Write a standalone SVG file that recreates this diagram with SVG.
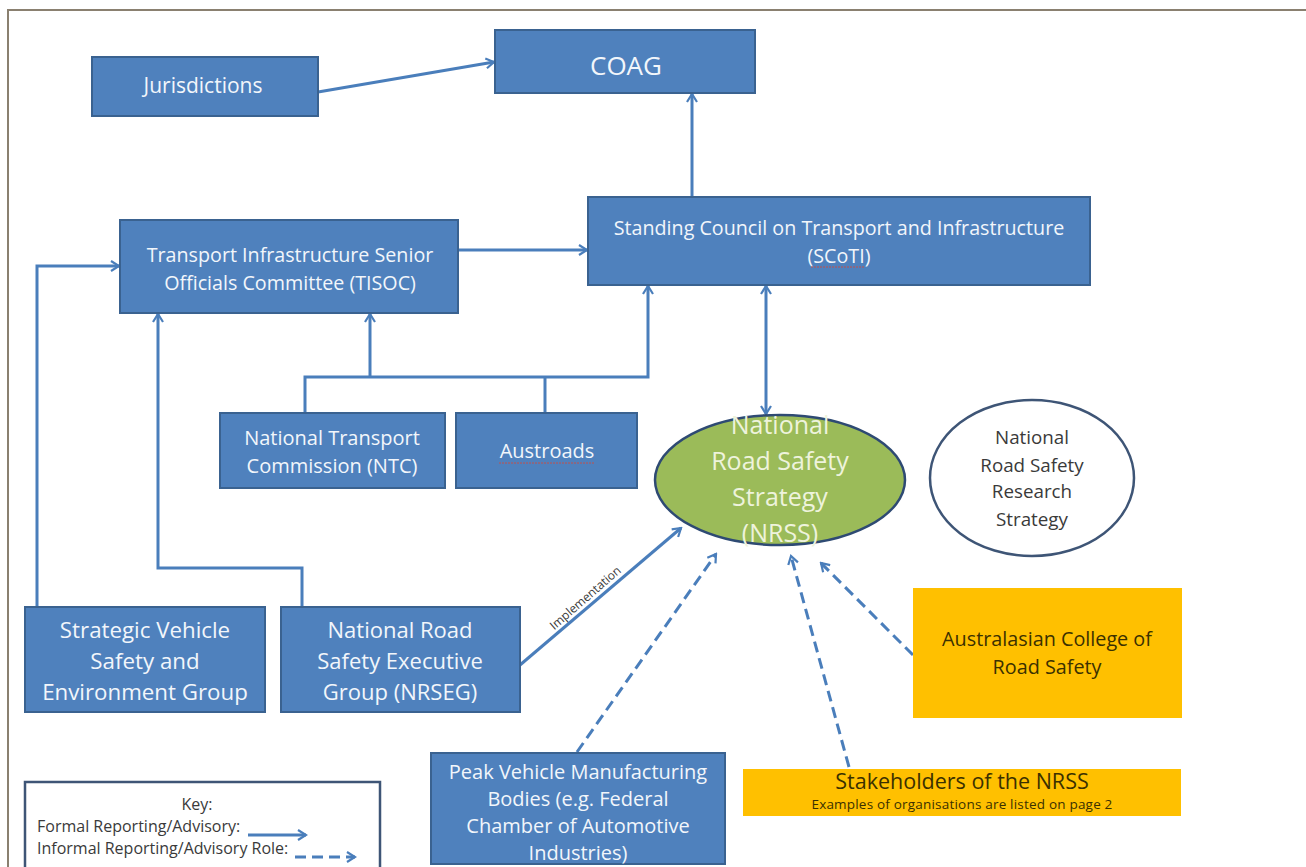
<svg xmlns="http://www.w3.org/2000/svg" width="1306" height="867" viewBox="0 0 1306 867">
<defs>
<style>
.box{fill:#4F81BD;stroke:#3A6290;stroke-width:2}
.org{fill:#FFC000;stroke:none}
.wt{fill:#F2F6FB;font-family:"Open Sans","Noto Sans","Liberation Sans",sans-serif;text-anchor:middle}
.dk{fill:#3B3000;font-family:"Open Sans","Noto Sans","Liberation Sans",sans-serif;text-anchor:middle}
.gt{fill:#3a3a3a;font-family:"Open Sans","Noto Sans","Liberation Sans",sans-serif;text-anchor:middle}
.st{text-anchor:start}
.ln{fill:none;stroke:#4A7EBB;stroke-width:3}
.dash{fill:none;stroke:#4A7EBB;stroke-width:3;stroke-dasharray:11 6}
</style>
<marker id="ah" viewBox="0 0 12 12" refX="10" refY="6" markerWidth="12" markerHeight="12" markerUnits="userSpaceOnUse" orient="auto-start-reverse">
<polyline points="2,1 10,6 2,11" fill="none" stroke="#4A7EBB" stroke-width="2.2"/>
</marker>
</defs>
<rect x="0" y="0" width="1306" height="867" fill="#ffffff"/>
<path d="M8,867 V10 H1306" fill="none" stroke="#8A8070" stroke-width="2"/>

<g id="connectors">
<path class="ln" d="M318,92 L494,62" marker-end="url(#ah)"/>
<path class="ln" d="M692,197 V94" marker-end="url(#ah)"/>
<path class="ln" d="M458,250 H587" marker-end="url(#ah)"/>
<path class="ln" d="M37,607 V266 H119" marker-end="url(#ah)"/>
<path class="ln" d="M302,607 V568 H158 V314" marker-end="url(#ah)"/>
<path class="ln" d="M305,413 V377 H648 V286" marker-end="url(#ah)"/>
<path class="ln" d="M370,377 V314" marker-end="url(#ah)"/>
<path class="ln" d="M545,413 V377"/>
<path class="ln" d="M766,286 V414" marker-start="url(#ah)" marker-end="url(#ah)"/>
<path class="ln" d="M520,665 L681,528" marker-end="url(#ah)"/>
<text class="gt" font-size="12" transform="translate(588,601) rotate(-41)">Implementation</text>
<path class="dash" d="M577,752 L716,554" marker-end="url(#ah)"/>
<path class="dash" d="M849,767 L791,556" marker-end="url(#ah)"/>
<path class="dash" d="M913,655 L821,563" marker-end="url(#ah)"/>
</g>

<g id="jurisdictions">
<rect class="box" x="92" y="57" width="226" height="59"/>
<text class="wt" x="203" y="93" font-size="21">Jurisdictions</text>
</g>
<g id="coag">
<rect class="box" x="495" y="30" width="260" height="63"/>
<text class="wt" x="626" y="75" font-size="26">COAG</text>
</g>
<g id="tisoc">
<rect class="box" x="120" y="220" width="338" height="93"/>
<text class="wt" x="290" y="262" font-size="19.7">Transport Infrastructure Senior</text>
<text class="wt" x="290" y="290" font-size="19.7">Officials Committee (TISOC)</text>
</g>
<g id="scoti">
<rect class="box" x="588" y="197" width="502" height="88"/>
<text class="wt" x="839" y="235" font-size="19.7">Standing Council on Transport and Infrastructure</text>
<text class="wt" x="839" y="263" font-size="19.7">(SCoTI)</text>
<path d="M811,267 h54" stroke="#C0504D" stroke-width="1" stroke-dasharray="2 1"/>
</g>
<g id="ntc">
<rect class="box" x="220" y="413" width="225" height="75"/>
<text class="wt" x="332" y="445" font-size="20">National Transport</text>
<text class="wt" x="332" y="473" font-size="20">Commission (NTC)</text>
</g>
<g id="austroads">
<rect class="box" x="456" y="413" width="181" height="75"/>
<text class="wt" x="547" y="458" font-size="20">Austroads</text>
<path d="M499,463 h96" stroke="#C0504D" stroke-width="1" stroke-dasharray="2 1"/>
</g>
<g id="nrss">
<ellipse cx="780" cy="480" rx="125" ry="65" fill="#9BBB59" stroke="#2E4A73" stroke-width="2.5"/>
<text class="wt" x="780" y="434" font-size="25" style="fill:#EEF3DC">National</text>
<text class="wt" x="780" y="470" font-size="25" style="fill:#EEF3DC">Road Safety</text>
<text class="wt" x="780" y="506" font-size="25" style="fill:#EEF3DC">Strategy</text>
<text class="wt" x="780" y="542" font-size="25" style="fill:#EEF3DC">(NRSS)</text>
</g>
<g id="research">
<ellipse cx="1032" cy="478" rx="102" ry="78" fill="#ffffff" stroke="#3E5576" stroke-width="2.5"/>
<text class="gt" x="1032" y="444" font-size="18.8">National</text>
<text class="gt" x="1032" y="472" font-size="18.8">Road Safety</text>
<text class="gt" x="1032" y="498" font-size="18.8">Research</text>
<text class="gt" x="1032" y="526" font-size="18.8">Strategy</text>
</g>
<g id="svseg">
<rect class="box" x="25" y="607" width="240" height="105"/>
<text class="wt" x="145" y="638" font-size="22.3">Strategic Vehicle</text>
<text class="wt" x="145" y="669" font-size="22.3">Safety and</text>
<text class="wt" x="145" y="700" font-size="22.3">Environment Group</text>
</g>
<g id="nrseg">
<rect class="box" x="281" y="607" width="239" height="105"/>
<text class="wt" x="400" y="638" font-size="22">National Road</text>
<text class="wt" x="400" y="669" font-size="22">Safety Executive</text>
<text class="wt" x="400" y="700" font-size="22">Group (NRSEG)</text>
</g>
<g id="acrs">
<rect class="org" x="913" y="588" width="269" height="130"/>
<text class="dk" x="1047" y="646" font-size="19.8">Australasian College of</text>
<text class="dk" x="1047" y="674" font-size="19.8">Road Safety</text>
</g>
<g id="stakeholders">
<rect class="org" x="743" y="769" width="438" height="47"/>
<text class="dk" x="962" y="789" font-size="21.5">Stakeholders of the NRSS</text>
<text class="dk" x="962" y="809" font-size="13.5" letter-spacing="0.2">Examples of organisations  are listed on page 2</text>
</g>
<g id="peak">
<rect class="box" x="431" y="753" width="294" height="111"/>
<text class="wt" x="578" y="779" font-size="20">Peak Vehicle Manufacturing</text>
<text class="wt" x="578" y="806" font-size="20">Bodies (e.g. Federal</text>
<text class="wt" x="578" y="833" font-size="20">Chamber of Automotive</text>
<text class="wt" x="578" y="860" font-size="20">Industries)</text>
</g>
<g id="key">
<rect x="25" y="782" width="355" height="95" fill="#ffffff" stroke="#3E5576" stroke-width="2.5"/>
<text class="gt" x="197" y="810" font-size="16">Key:</text>
<text class="gt st" x="37" y="832" font-size="16">Formal Reporting/Advisory:</text>
<text class="gt st" x="37" y="854" font-size="16">Informal Reporting/Advisory Role:</text>
<path class="ln" d="M248,835 H306" marker-end="url(#ah)"/>
<path class="dash" d="M295,857 H355" stroke-dasharray="8 5" marker-end="url(#ah)"/>
</g>
</svg>
